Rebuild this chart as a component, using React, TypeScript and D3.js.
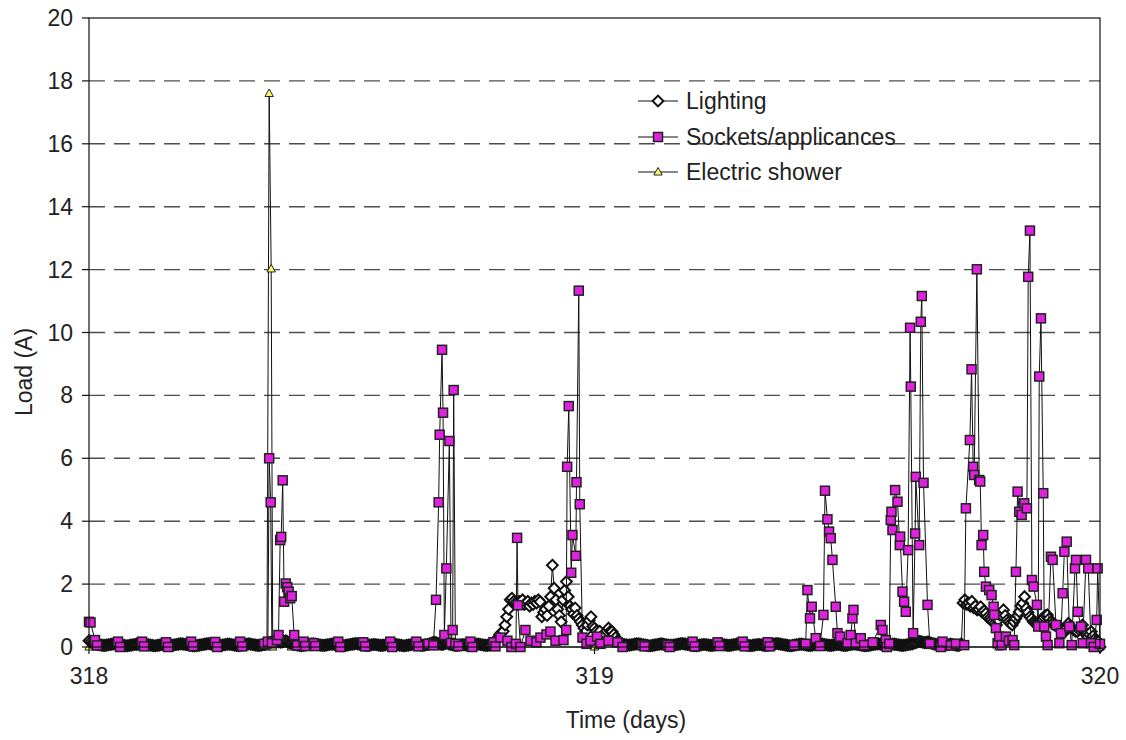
import React from 'react';
import * as d3 from 'd3';

const width = 1126;
const height = 740;
const margin = {top: 18, right: 26, bottom: 93, left: 89};
const innerRight = width - margin.right;
const innerBottom = height - margin.bottom;

const startDay = 318;
const samplesPerDay = 288; // lighting logged every 5 minutes

const dayTicks = [318, 319, 320];
const loadTicks = [0, 2, 4, 6, 8, 10, 12, 14, 16, 18, 20];
const gridTicks = [2, 4, 6, 8, 10, 12, 14, 16, 18];

const seriesNames = ['Lighting', 'Sockets/applicances', 'Electric shower'];

// Lighting load (A), one value per 5 minutes, each row = 2 hours
const lighting = [
  .2, .16, .12, .1, .09, .08, .07, .06, .05, .05, .06, .07, .08, .09, .1, .1, .09, .08, .07, .06, .05, .04, .04, .05,
  .06, .07, .08, .09, .1, .11, .11, .1, .09, .08, .07, .06, .05, .04, .04, .05, .06, .07, .08, .08, .07, .06, .05, .05,
  .06, .07, .08, .09, .1, .1, .09, .08, .07, .06, .05, .04, .03, .04, .05, .06, .07, .08, .09, .1, .11, .1, .09, .08,
  .07, .06, .05, .05, .06, .07, .08, .09, .09, .08, .07, .06, .05, .04, .05, .06, .07, .08, .09, .1, .09, .08, .07, .06,
  .05, .05, .06, .07, .08, .1, .12, .14, .16, .18, .2, .19, .17, .15, .16, .18, .2, .17, .14, .12, .1, .08, .07, .06,
  .05, .04, .05, .06, .07, .08, .09, .1, .1, .09, .08, .07, .06, .05, .05, .06, .07, .08, .09, .09, .08, .07, .06, .05,
  .04, .04, .05, .06, .07, .08, .09, .1, .11, .1, .09, .08, .07, .06, .05, .05, .06, .07, .08, .08, .07, .06, .05, .05,
  .06, .07, .08, .09, .1, .1, .09, .08, .07, .06, .05, .04, .04, .05, .06, .07, .08, .09, .09, .08, .07, .06, .05, .06,
  .07, .08, .1, .12, .14, .15, .13, .11, .09, .08, .09, .11, .12, .1, .08, .07, .06, .05, .05, .06, .07, .08, .07, .06,
  .05, .05, .06, .07, .08, .09, .09, .08, .07, .06, .05, .05, .06, .07, .1, .15, .2, .3, .4, .45, .5, .7, .96, 1.2,
  1.5, 1.55, 1.45, 1.4, 1.35, 1.45, 1.4, 1.5, 1.35, 1.4, 1.45, 1.3, 1.4, 1.35, 1.45, 1.4, 1.5, 1.44, .96, 1.1, 1.2, 1, 1.3, 1.6,
  2.6, 1.87, 1.5, 1.2, 1, .8, 1.5, 1.8, 2.08, 1.6, 1.3, 1.2, 1.05, 1.24, 1, .9, .8, .7, .6, .5, .7, .85, .96, .65,
  .6, .5, .4, .5, .35, .3, .4, .5, .6, .5, .49, .4, .3, .2, .15, .1, .09, .08, .07, .06, .06, .07, .08, .09,
  .1, .1, .09, .08, .07, .06, .05, .04, .04, .05, .06, .07, .08, .09, .1, .09, .08, .07, .06, .05, .05, .06, .07, .08,
  .09, .1, .11, .1, .09, .08, .07, .06, .05, .04, .04, .05, .06, .07, .08, .08, .07, .06, .05, .05, .06, .07, .08, .09,
  .09, .08, .07, .06, .05, .05, .06, .07, .08, .09, .1, .1, .09, .08, .07, .06, .05, .04, .05, .06, .07, .08, .08, .07,
  .06, .05, .05, .06, .07, .08, .09, .1, .11, .1, .09, .08, .07, .06, .05, .04, .04, .05, .06, .07, .08, .09, .09, .08,
  .07, .06, .05, .05, .06, .07, .08, .09, .1, .1, .09, .08, .07, .06, .05, .05, .06, .07, .08, .08, .07, .06, .05, .05,
  .06, .07, .08, .09, .1, .09, .08, .07, .06, .05, .04, .04, .05, .06, .07, .08, .09, .1, .1, .09, .08, .07, .06, .06,
  .07, .08, .09, .09, .08, .07, .06, .05, .05, .06, .07, .08, .09, .1, .12, .14, .16, .18, .17, .15, .14, .15, .16, .14,
  .12, .1, .09, .08, .07, .06, .05, .05, .06, .07, .08, .09, .08, .07, .06, .05, .06, .1, 1.4, 1.5, 1.35, 1.4, 1.3, 1.45,
  1.25, 1.3, 1.18, 1.2, 1.28, 1.1, 1.15, 1.07, .95, .9, .86, .8, .75, .7, .85, 1.02, 1, 1.18, 1, .86, .8, .75, .7, .8,
  .91, 1, 1.12, 1.3, 1.39, 1.6, 1.23, 1.1, .96, .9, .8, .78, .75, .75, .8, .9, .95, 1, 1.02, .9, .8, .75, .7, .68,
  .65, .6, .55, .5, .49, .6, .75, .65, .6, .55, .5, .49, .55, .6, .7, .5, .4, .33, .4, .49, .35, .25, .2, .17,
  0,
];

// Sockets/appliances: [days after 318, load (A)]
const sockets: [number, number][] = [
  [0, .8], [.003, .78], [.0119, .22], [.0158, .05], [.0574, .17], [.0614, 0], [.105, .17], [.1089, .02],
  [.1525, .15], [.1564, 0], [.202, .17], [.2059, .03], [.2495, .16], [.2535, 0], [.299, .17], [.303, .02],
  [.3465, .1], [.3539, .17], [.3564, 6], [.3594, 4.6], [.3618, .12], [.3717, .22], [.3749, .38], [.3782, 3.4],
  [.3802, 3.5], [.3832, 5.3], [.3861, 1.44], [.3891, 2.02], [.3921, 1.9], [.395, 1.76], [.398, 1.55], [.401, 1.62],
  [.4059, .38], [.4119, .05], [.4244, .17], [.4277, .03], [.4442, .12], [.4475, .03], [.4931, .17], [.497, 0],
  [.5426, .15], [.5465, .02], [.596, .17], [.5999, 0], [.6475, .17], [.6515, .02], [.6713, .1],
  [.6812, .05], [.6865, 1.5], [.6917, 4.6], [.6937, 6.75], [.6984, 9.45], [.7004, 7.45], [.703, .38], [.7069, 2.5],
  [.7129, 6.55], [.7162, .13], [.7194, .54], [.7214, 8.17], [.7248, .1], [.7307, .03], [.7545, .17], [.7584, 0],
  [.8, .15], [.804, .02], [.8139, .3], [.8277, .2], [.8356, 0], [.8446, .1], [.8469, 3.47], [.8485, 1.33],
  [.8535, 0], [.8634, .54], [.8733, .2], [.8851, .15], [.8931, .3], [.905, .4], [.9129, .49], [.9228, .2],
  [.9386, .22], [.944, .54], [.9459, 5.73], [.9491, 7.66], [.9539, 2.36], [.9564, 3.56], [.963, 2.9], [.9644, 5.24],
  [.9689, 11.33], [.9709, 4.54], [.9762, .3], [.9842, .1], [.9921, .2], [1.0053, .33], [1.0119, .1], [1.0277, .2],
  [1.0455, .15], [1.0554, 0], [1.095, .06], [1.099, .02], [1.1446, .06], [1.1485, 0], [1.1941, .17], [1.198, .02],
  [1.2436, .15], [1.2475, .03], [1.2931, .17], [1.297, .02], [1.3426, .15], [1.3465, .02], [1.3947, .06],
  [1.4178, .1], [1.4212, 1.81], [1.4263, .91], [1.4297, 1.28], [1.4376, .28], [1.4461, .03], [1.4529, 1.02], [1.456, 4.97],
  [1.4608, 4.06], [1.464, 3.67], [1.4673, 3.46], [1.4707, 2.77], [1.4772, 1.28], [1.4806, .44], [1.4857, .33], [1.5004, .12],
  [1.5069, .38], [1.5103, .91], [1.5123, 1.18], [1.5168, .12], [1.5267, .28], [1.5333, .06], [1.5505, .15], [1.5663, .7],
  [1.5697, .54], [1.5762, .22], [1.5782, 0],
  [1.5832, .1], [1.5861, 4.04], [1.5875, 4.3], [1.5895, 3.72], [1.5947, 4.99], [1.5994, 4.62], [1.604, 3.24], [1.6046, 3.51],
  [1.6093, 1.76], [1.6125, 1.44], [1.6158, 1.12], [1.6204, 3.08], [1.6243, 10.15], [1.6257, 8.28], [1.6303, .44], [1.6343, 3.61],
  [1.6356, 5.41], [1.6422, 3.24], [1.6455, 10.34], [1.6475, 11.16], [1.6509, 5.22], [1.6588, 1.34], [1.6634, .1], [1.6851, 0],
  [1.6885, .17], [1.705, .05], [1.7149, .1],
  [1.7313, .06], [1.7347, 4.41], [1.7426, 6.58], [1.7459, 8.83], [1.7491, 5.73], [1.7511, 5.47], [1.7564, 12.01], [1.761, 5.31],
  [1.763, 5.26], [1.7657, 3.24], [1.7689, 3.56], [1.7709, 2.39], [1.7743, 1.92], [1.7808, 1.81], [1.7855, 1.65], [1.7895, 1.28],
  [1.7907, 1.02], [1.7941, .6], [1.7974, .12], [1.8006, .33], [1.8053, .06], [1.8139, .33], [1.8198, .2], [1.8271, .22],
  [1.8303, .06], [1.8337, 2.39], [1.837, 4.94], [1.8402, 4.3], [1.845, 4.2], [1.8501, 4.57], [1.8554, 4.41], [1.858, 11.77],
  [1.8614, 13.24], [1.8653, 2.13], [1.8687, 1.92], [1.8752, 1.34], [1.8778, .65], [1.8798, 8.6], [1.8832, 10.45], [1.8877, 4.89],
  [1.8897, .65], [1.8931, .33], [1.8964, .06], [1.903, 2.87], [1.9063, 2.77], [1.9129, .7], [1.9196, .12], [1.9228, .44],
  [1.9261, 1.71], [1.9295, 3.03], [1.9341, 3.35], [1.9392, .65], [1.944, .06], [1.9505, 2.5], [1.9525, 2.77], [1.956, 1.12],
  [1.9624, .65], [1.9657, .12], [1.9723, 2.77], [1.9768, 2.5], [1.9822, .12], [1.9875, 0], [1.9935, .86], [1.9954, 2.5],
  [2, .1],
];

// Electric shower: [days after 318, load (A)]
const shower: [number, number][] = [
  [0, 0], [.1, 0], [.2, 0], [.3, 0], [.352, 0], [.3564, 17.6], [.3604, 12.02], [.3635, 0],
  [.4, 0], [.6, 0], [.8, 0], [1, 0], [1.2, 0], [1.4, 0], [1.6, 0], [1.8, 0], [2, 0],
];

const magenta = '#e022e0';
const yellow = '#ffff70';
const font = '"Liberation Sans", Arial, sans-serif';

const diamond = (r: number) => `M0,${-r}L${r},0L0,${r}L${-r},0Z`;
const triangle = `M0,-4.5L4.2,3L-4.2,3Z`;

function Diamond({cx, cy}: {cx: number; cy: number}) {
  return <path d={diamond(5.4)} transform={`translate(${cx},${cy})`} fill="#fff" stroke="#111" strokeWidth={2} />;
}

function Square({cx, cy}: {cx: number; cy: number}) {
  return <rect x={cx - 4.5} y={cy - 4.5} width={9} height={9} fill={magenta} stroke="#222" strokeWidth={1.5} />;
}

function Triangle({cx, cy}: {cx: number; cy: number}) {
  return <path d={triangle} transform={`translate(${cx},${cy})`} fill={yellow} stroke="#222" strokeWidth={1} />;
}

export default function App() {
  const x = d3.scaleLinear().domain([318, 320]).range([margin.left, innerRight]);
  const y = d3.scaleLinear().domain([0, 20]).range([innerBottom, margin.top]);

  const lightSeries: [number, number][] = lighting.map((v, i) => [startDay + i / samplesPerDay, v]);
  const socketSeries: [number, number][] = sockets.map(([t, v]) => [startDay + t, v]);
  const showerSeries: [number, number][] = shower.map(([t, v]) => [startDay + t, v]);

  const line = d3.line<[number, number]>().x((d) => x(d[0])).y((d) => y(d[1]));

  const legendRows = [101, 137, 172];

  return (
    <svg width={width} height={height} style={{position: 'absolute', left: 0, top: 0, background: '#fff'}}>
      {/* grid */}
      {gridTicks.map((t) => (
        <line key={t} x1={margin.left} x2={innerRight} y1={y(t)} y2={y(t)}
          stroke="#4d4d4d" strokeWidth={1.4} strokeDasharray="16 9" />
      ))}

      {/* series: shower under the rest so its zero markers vanish in the band */}
      <path d={line(showerSeries) || ''} fill="none" stroke="#111" strokeWidth={1} />
      {showerSeries.map((d, i) => <Triangle key={i} cx={x(d[0])} cy={y(d[1])} />)}

      <path d={line(lightSeries) || ''} fill="none" stroke="#111" strokeWidth={1} />
      {lightSeries.map((d, i) => <Diamond key={i} cx={x(d[0])} cy={y(d[1])} />)}

      <path d={line(socketSeries) || ''} fill="none" stroke="#111" strokeWidth={1} />
      {socketSeries.map((d, i) => <Square key={i} cx={x(d[0])} cy={y(d[1])} />)}

      {/* frame */}
      <rect x={margin.left} y={margin.top} width={innerRight - margin.left} height={innerBottom - margin.top}
        fill="none" stroke="#111" strokeWidth={1.2} />

      {/* y axis */}
      {loadTicks.map((t) => (
        <g key={t} transform={`translate(0, ${y(t)})`}>
          <line x1={margin.left - 7} x2={margin.left} stroke="#111" strokeWidth={1.2} />
          <text x={margin.left - 16} dy="0.35em" textAnchor="end" fontSize={23} fontFamily={font} fill="#222">{t}</text>
        </g>
      ))}

      {/* x axis */}
      {dayTicks.map((t) => (
        <g key={t} transform={`translate(${x(t)}, ${innerBottom})`}>
          <line y1={0} y2={7} stroke="#111" strokeWidth={1.2} />
          <text y={29} dy="0.35em" textAnchor="middle" fontSize={23} fontFamily={font} fill="#222">{t}</text>
        </g>
      ))}

      <text x={626} y={720} dy="0.35em" textAnchor="middle" fontSize={23} fontFamily={font} fill="#222">Time (days)</text>
      <text transform="translate(24, 372) rotate(-90)" dy="0.35em" textAnchor="middle" fontSize={23} fontFamily={font} fill="#222">Load (A)</text>

      {/* legend */}
      {seriesNames.map((name, i) => (
        <g key={name} transform={`translate(0, ${legendRows[i]})`}>
          <line x1={638} x2={678} stroke="#111" strokeWidth={1} />
          {i === 0 && <Diamond cx={658} cy={0} />}
          {i === 1 && <Square cx={658} cy={0} />}
          {i === 2 && <Triangle cx={658} cy={0} />}
          <text x={686} dy="0.35em" fontSize={23} fontFamily={font} fill="#222">{name}</text>
        </g>
      ))}
    </svg>
  );
}
